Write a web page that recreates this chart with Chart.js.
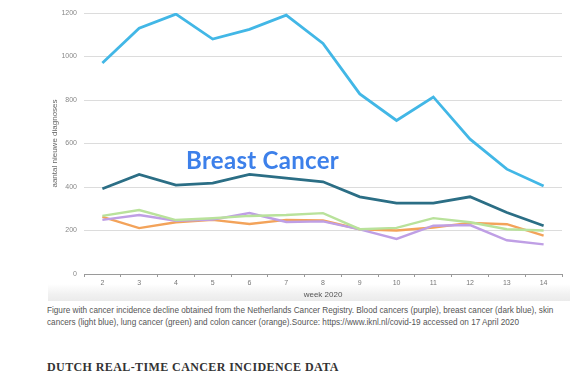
<!DOCTYPE html>
<html>
<head>
<meta charset="utf-8">
<script src="https://cdn.jsdelivr.net/npm/chart.js@4/dist/chart.umd.min.js"></script>
<style>
  html, body { margin:0; padding:0; background:#fff; }
  body { width:587px; height:379px; position:relative; overflow:hidden; }
  #band { position:absolute; left:48px; top:284px; width:522px; height:17px;
          background:linear-gradient(to bottom, #ffffff 0%, #f1f1f1 60%, #ebebeb 100%); }
  #wrap { position:absolute; left:0; top:0; width:587px; height:300px; }
  #note { position:absolute; left:186px; top:145px; font-family:"Lato", sans-serif; font-weight:bold;
          font-size:24px; color:#3d80ea; letter-spacing:0.3px; white-space:nowrap; }
  #caption { position:absolute; left:47px; top:305px; width:540px; font-family:"Liberation Sans", Arial, sans-serif;
          font-size:8.2px; line-height:12px; color:#555; white-space:nowrap; }
  #heading { position:absolute; left:47px; top:360px; font-family:"Liberation Serif", "DejaVu Serif", serif;
          font-weight:bold; font-size:12px; color:#333; letter-spacing:0.4px; white-space:nowrap; }
</style>
</head>
<body>
<div id="band"></div>
<div id="wrap"><canvas id="c" width="587" height="300"></canvas></div>
<div id="note">Breast Cancer</div>
<div id="caption">Figure with cancer incidence decline obtained from the Netherlands Cancer Registry. Blood cancers (purple), breast cancer (dark blue), skin<br>cancers (light blue), lung cancer (green) and colon cancer (orange).Source: https://www.iknl.nl/covid-19 accessed on 17 April 2020</div>
<div id="heading">DUTCH REAL-TIME CANCER INCIDENCE DATA</div>
<script>
const weeks = ['2','3','4','5','6','7','8','9','10','11','12','13','14'];
const skinCancer   = [970, 1130, 1195, 1080, 1125, 1190, 1060, 828, 706, 814, 620, 482, 405];
const breastCancer = [392, 458, 409, 418, 458, 441, 424, 355, 326, 326, 355, 283, 222];
const lungCancer   = [267, 294, 248, 256, 267, 271, 280, 206, 212, 257, 238, 206, 200];
const colonCancer  = [263, 211, 238, 249, 230, 249, 246, 206, 200, 214, 235, 229, 176];
const bloodCancer  = [249, 271, 245, 250, 280, 239, 242, 205, 161, 222, 225, 155, 136];
const yMin = 0, yMax = 1200, yStep = 200;
const yTitle = 'aantal nieuwe diagnoses';
const xTitle = 'week 2020';

const mk = (data, color, w) => ({ data, borderColor: color, borderWidth: w, pointRadius: 0, tension: 0, fill: false });

new Chart(document.getElementById('c'), {
  type: 'line',
  data: {
    labels: weeks,
    datasets: [
      mk(skinCancer, '#42b7e6', 2.8),
      mk(breastCancer, '#2b6e85', 2.8),
      mk(lungCancer, '#b9e29b', 2.4),
      mk(bloodCancer, '#bf9fe5', 2.4),
      mk(colonCancer, '#f3a35a', 2.4)
    ]
  },
  options: {
    responsive: false,
    devicePixelRatio: 1,
    animation: false,
    layout: { padding: { left: 0, right: 25, top: 13, bottom: 0 } },
    plugins: { legend: { display: false }, tooltip: { enabled: false } },
    scales: {
      x: {
        type: 'category',
        offset: true,
        grid: { drawOnChartArea: false, drawTicks: true, tickLength: 3, color: '#9a9a9a', offset: true },
        border: { display: true, color: '#9a9a9a', width: 1 },
        ticks: { font: { family: 'Liberation Sans', size: 7 }, color: '#777', padding: 2, maxRotation: 0 },
        title: { display: true, text: xTitle, font: { family: 'Liberation Sans', size: 8 }, color: '#555', padding: { top: 0, bottom: 0 } },
        afterFit: s => { s.height = 26; }
      },
      y: {
        min: yMin, max: yMax,
        ticks: { stepSize: yStep, font: { family: 'Liberation Sans', size: 7 }, color: '#888', padding: 7,
                 callback: v => String(v) },
        grid: { drawTicks: false, color: '#dcdcdc', lineWidth: 1 },
        border: { display: false },
        title: { display: true, text: yTitle, font: { family: 'Liberation Sans', size: 8 }, color: '#666', padding: { top: 50, bottom: 0 } },
        afterFit: s => { s.width = 84; }
      }
    }
  }
});
</script>
</body>
</html>
